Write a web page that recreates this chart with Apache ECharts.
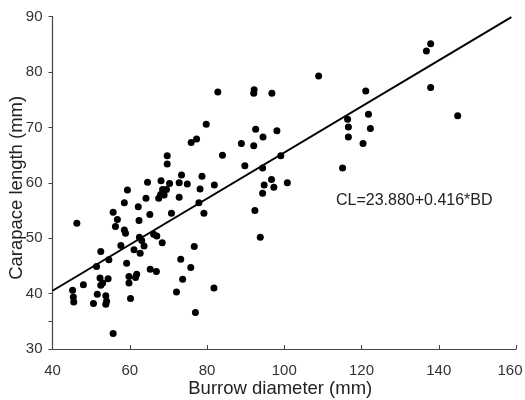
<!DOCTYPE html>
<html>
<head>
<meta charset="utf-8">
<script src="https://cdn.jsdelivr.net/npm/echarts@6/dist/echarts.min.js"></script>
<style>html,body{margin:0;padding:0;background:#fff}#c{width:525px;height:400px}</style>
</head>
<body>
<div id="c"></div>
<script>
// Burrow diameter (mm) values
const burrowDiameter = [
  46.3, 45.2, 45.4, 45.5, 48.0, 50.6, 51.6, 51.4, 52.5, 52.3,
  52.5, 53.0, 53.8, 53.8, 54.0, 54.4, 54.6, 55.7, 55.7, 56.3,
  56.8, 57.7, 58.6, 58.6, 58.9, 59.2, 59.8, 59.8, 60.2, 61.1,
  61.5, 61.8, 62.7, 63.1, 59.4, 62.2, 62.4, 62.5, 64.2, 63.7,
  65.2, 65.3, 66.2, 67.0, 66.9, 68.4, 70.8, 72.1, 64.6, 68.1,
  69.7, 69.7, 70.3, 68.5, 69.5, 68.0, 68.9, 67.5, 72.8, 74.9,
  73.4, 78.7, 78.2, 81.9, 72.8, 77.9, 79.2, 82.8, 79.8, 77.3,
  75.9, 84.0, 73.2, 76.7, 75.8, 73.7, 81.8, 77.0, 92.2, 92.1,
  96.8, 92.6, 94.5, 98.1, 88.9, 92.1, 99.1, 89.8, 94.4, 115.1,
  96.7, 94.8, 97.3, 100.8, 94.4, 92.4, 93.8, 108.9, 116.4, 116.6,
  116.6, 137.9, 136.8, 137.9, 121.1, 121.8, 122.3, 120.4, 144.9
];
// Carapace length (mm) values
const carapaceLength = [
  52.7, 40.6, 39.4, 38.5, 41.6, 38.2, 39.9, 44.9, 47.6, 42.8,
  41.5, 41.9, 39.6, 38.1, 38.6, 42.7, 46.1, 32.8, 54.7, 52.1,
  53.4, 48.7, 56.4, 51.5, 50.9, 45.5, 43.1, 41.9, 39.1, 47.9,
  42.9, 43.5, 47.3, 49.6, 58.7, 55.7, 53.2, 50.2, 57.2, 48.6,
  54.3, 44.4, 50.7, 50.4, 44.0, 49.2, 54.5, 40.3, 60.1, 60.4,
  64.9, 63.4, 59.9, 58.8, 58.8, 57.9, 57.8, 57.2, 60.0, 59.8,
  61.4, 61.2, 58.9, 59.6, 57.4, 56.4, 54.5, 76.4, 70.6, 67.9,
  67.3, 65.0, 46.2, 48.5, 44.7, 42.6, 41.0, 36.6, 76.8, 76.2,
  76.2, 69.7, 68.3, 69.4, 67.1, 66.7, 64.9, 63.1, 62.7, 62.7,
  60.6, 59.6, 59.2, 60.0, 58.1, 55.0, 50.2, 79.3, 71.5, 70.1,
  68.3, 85.1, 83.8, 77.2, 76.6, 72.4, 69.8, 67.1, 72.1
];
// Regression CL = 23.880 + 0.416 * BD
const intercept = 23.880;
const slope = 0.416;
const lineRange = [40, 158.8];
const xTicks = [40, 60, 80, 100, 120, 140, 160];
const yTicks = [30, 40, 50, 60, 70, 80, 90];
const yExtraTicks = [35];
const equationText = 'CL=23.880+0.416*BD';

const points = burrowDiameter.map((x, i) => [x, carapaceLength[i]]);
const fitLine = lineRange.map(x => [x, intercept + slope * x]);
const xMax = xTicks[xTicks.length - 1];
const yMin = yTicks[0], yMax = yTicks[yTicks.length - 1];

const font = 'Liberation Sans, Arial, sans-serif';
const chart = echarts.init(document.getElementById('c'), null, {renderer: 'canvas'});
chart.setOption({
  animation: false,
  backgroundColor: '#fff',
  grid: {left: 52.5, right: 9, top: 16.7, bottom: 51, containLabel: false, outerBoundsMode: 'none'},
  xAxis: {
    type: 'value', min: xTicks[0], max: xMax, interval: 20,
    name: 'Burrow diameter (mm)', nameLocation: 'middle', nameGap: 30, nameMoveOverlap: false,
    nameTextStyle: {fontFamily: font, fontSize: 18.5, color: '#222', padding: [0, 8, 0, 0]},
    axisLine: {show: true, lineStyle: {color: '#444', width: 1.2}},
    axisTick: {show: true, inside: true, length: 4, lineStyle: {color: '#444'}},
    axisLabel: {
      fontFamily: font, fontSize: 15, color: '#333', margin: 14,
      formatter: v => v === xMax ? '{last|' + v + '}' : String(v),
      rich: {last: {fontFamily: font, fontSize: 15, color: '#333', padding: [0, 12, 0, 0]}}
    },
    splitLine: {show: false}
  },
  yAxis: [{
    type: 'value', min: yMin, max: yMax, interval: 10,
    name: 'Carapace length (mm)', nameLocation: 'middle', nameGap: 26, nameRotate: 90, nameMoveOverlap: false,
    nameTextStyle: {fontFamily: font, fontSize: 18.5, color: '#222', padding: [0, 10, 0, 0]},
    axisLine: {show: true, lineStyle: {color: '#444', width: 1.2}},
    axisTick: {show: true, inside: false, length: 4, lineStyle: {color: '#444'}},
    axisLabel: {fontFamily: font, fontSize: 15, color: '#333', margin: 10},
    splitLine: {show: false}
  }, {
    type: 'value', min: yMin, max: yMax, interval: 5, position: 'left',
    axisLine: {show: false},
    axisTick: {show: true, inside: false, length: 4, customValues: yExtraTicks, lineStyle: {color: '#444'}},
    axisLabel: {show: false},
    splitLine: {show: false}
  }],
  graphic: [{
    type: 'text', left: 336, top: 193,
    style: {text: equationText, font: '16px ' + font, fill: '#222'}
  }],
  series: [
    {
      type: 'scatter', data: points, symbol: 'circle', symbolSize: 7,
      itemStyle: {color: '#000', opacity: 1}, z: 3
    },
    {
      type: 'line', data: fitLine, symbol: 'none',
      lineStyle: {color: '#000', width: 2}, z: 2
    }
  ]
});
</script>
</body>
</html>
